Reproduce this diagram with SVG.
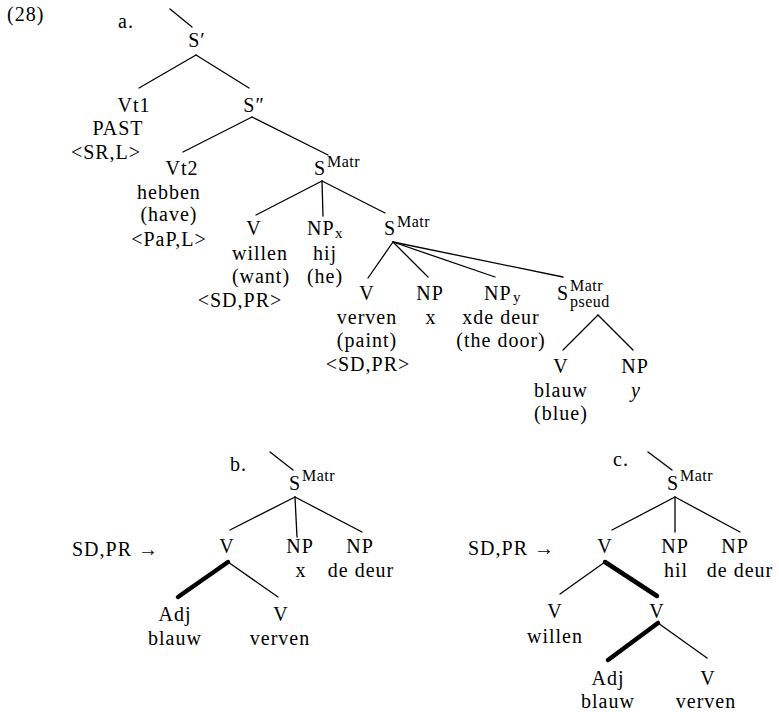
<svg xmlns="http://www.w3.org/2000/svg" width="779" height="712" viewBox="0 0 779 712">
<style>
text{font-family:"Liberation Serif","Times New Roman",serif;font-size:20px;letter-spacing:1px;fill:#000}
.m{text-anchor:middle}
.sup{font-size:16px;letter-spacing:0.5px}
.sub{font-size:15px;letter-spacing:0}
.it{font-style:italic}
.e line{stroke:#000;stroke-width:1.3;stroke-linecap:round}
.e line.t{stroke-width:4.5}
</style>
<rect width="779" height="712" fill="#fff"/>
<text x="7" y="21">(28)</text>
<text x="118" y="28">a.</text>
<text x="230" y="471">b.</text>
<text x="613" y="466">c.</text>
<text x="72" y="556">SD,PR →</text>
<text x="468" y="555">SD,PR →</text>
<g class="e" id="edges">
<line x1="170" y1="9" x2="192" y2="27"/>
<line x1="196" y1="55" x2="139" y2="88"/>
<line x1="196" y1="55" x2="249" y2="88"/>
<line x1="252" y1="117" x2="183" y2="152"/>
<line x1="252" y1="117" x2="328" y2="155"/>
<line x1="322" y1="181" x2="256" y2="215"/>
<line x1="322" y1="181" x2="323" y2="216"/>
<line x1="322" y1="181" x2="385" y2="213"/>
<line x1="393" y1="242" x2="368" y2="278"/>
<line x1="393" y1="242" x2="428" y2="277"/>
<line x1="393" y1="242" x2="495" y2="277"/>
<line x1="393" y1="242" x2="563" y2="277"/>
<line x1="598" y1="315" x2="563" y2="350"/>
<line x1="598" y1="315" x2="633" y2="350"/>
<line x1="270" y1="452" x2="293" y2="470"/>
<line x1="295" y1="497" x2="230" y2="530"/>
<line x1="295" y1="497" x2="297" y2="537"/>
<line x1="295" y1="497" x2="362" y2="532"/>
<line class="t" x1="228" y1="562" x2="178" y2="597"/>
<line x1="228" y1="562" x2="278" y2="597"/>
<line x1="648" y1="452" x2="672" y2="470"/>
<line x1="675" y1="497" x2="612" y2="530"/>
<line x1="675" y1="497" x2="675" y2="532"/>
<line x1="675" y1="497" x2="740" y2="532"/>
<line x1="605" y1="562" x2="560" y2="594"/>
<line class="t" x1="605" y1="562" x2="657" y2="596"/>
<line class="t" x1="658" y1="623" x2="608" y2="660"/>
<line x1="658" y1="623" x2="707" y2="658"/>
</g>
<g id="a-Sprime"><text class="m" x="197" y="47">S′</text></g>
<g id="a-Vt1"><text class="m" x="134" y="112">Vt1</text><text class="m" x="118" y="135">PAST</text><text class="m" x="106" y="159">&lt;SR,L&gt;</text></g>
<g id="a-S2prime"><text class="m" x="254" y="112">S″</text></g>
<g id="a-Vt2"><text class="m" x="182" y="175">Vt2</text><text class="m" x="169" y="198.5">hebben</text><text class="m" x="169" y="221">(have)</text><text class="m" x="169" y="246">&lt;PaP,L&gt;</text></g>
<g id="a-SMatr1"><text x="314" y="175">S</text><text class="sup" x="327" y="167">Matr</text></g>
<g id="a-V-willen"><text class="m" x="254" y="235">V</text><text class="m" x="260" y="260">willen</text><text class="m" x="261" y="283">(want)</text><text class="m" x="240" y="307">&lt;SD,PR&gt;</text></g>
<g id="a-NPx"><text x="307" y="235">NP</text><text class="sub" x="335" y="238">x</text><text class="m" x="325" y="260">hij</text><text class="m" x="325" y="283">(he)</text></g>
<g id="a-SMatr2"><text x="384" y="235">S</text><text class="sup" x="397" y="227">Matr</text></g>
<g id="a-V-verven"><text class="m" x="367" y="300">V</text><text class="m" x="367" y="324">verven</text><text class="m" x="367" y="347">(paint)</text><text class="m" x="368" y="371">&lt;SD,PR&gt;</text></g>
<g id="a-NP-x"><text class="m" x="430" y="300">NP</text><text class="m" x="431" y="324">x</text></g>
<g id="a-NPy"><text x="484" y="300">NP</text><text class="sub" x="513" y="302">y</text><text class="m" x="501" y="324">xde deur</text><text class="m" x="501" y="347">(the door)</text></g>
<g id="a-Spseud"><text x="557" y="300">S</text><text class="sup" x="570" y="291">Matr</text><text class="sup" x="570" y="307">pseud</text></g>
<g id="a-V-blauw"><text class="m" x="561" y="373">V</text><text class="m" x="561" y="397">blauw</text><text class="m" x="561" y="420">(blue)</text></g>
<g id="a-NP-y"><text class="m" x="635" y="373">NP</text><text class="m it" x="636" y="397">y</text></g>
<g id="b-SMatr"><text x="289" y="490">S</text><text class="sup" x="302" y="481">Matr</text></g>
<g id="b-V"><text class="m" x="227" y="553">V</text></g>
<g id="b-NP-x"><text class="m" x="300" y="553">NP</text><text class="m" x="301" y="577">x</text></g>
<g id="b-NP-deur"><text class="m" x="360" y="553">NP</text><text class="m" x="361" y="577">de deur</text></g>
<g id="b-Adj"><text class="m" x="175" y="621">Adj</text><text class="m" x="175" y="645">blauw</text></g>
<g id="b-V-verven"><text class="m" x="281" y="621">V</text><text class="m" x="280" y="645">verven</text></g>
<g id="c-SMatr"><text x="667" y="490">S</text><text class="sup" x="680" y="481">Matr</text></g>
<g id="c-V"><text class="m" x="605" y="553">V</text></g>
<g id="c-NP-hil"><text class="m" x="675" y="553">NP</text><text class="m" x="676" y="577">hil</text></g>
<g id="c-NP-deur"><text class="m" x="735" y="553">NP</text><text class="m" x="740" y="577">de deur</text></g>
<g id="c-V-willen"><text class="m" x="555" y="618">V</text><text class="m" x="555" y="643">willen</text></g>
<g id="c-V2"><text class="m" x="657" y="618">V</text></g>
<g id="c-Adj"><text class="m" x="608" y="685">Adj</text><text class="m" x="608" y="708">blauw</text></g>
<g id="c-V-verven"><text class="m" x="708" y="685">V</text><text class="m" x="706" y="708">verven</text></g>
</svg>
